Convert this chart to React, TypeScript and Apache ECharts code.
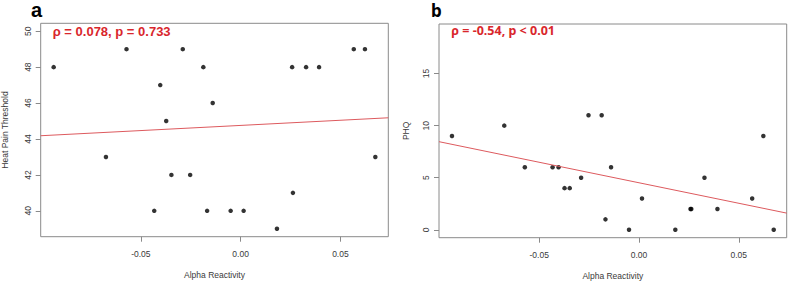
import React, { useEffect, useRef } from "react";
import * as echarts from "echarts";

// Alpha reactivity (x) shared by both panels
const alphaReactivity = [
  -0.0937, -0.0675, -0.0572, -0.0433, -0.0403, -0.0373, -0.0347, -0.029, -0.0253, -0.0187, -0.0168,
  -0.014, -0.005, 0.0015, 0.0182, 0.0258, 0.0262, 0.0328, 0.0393, 0.0567, 0.0623, 0.0675,
];
// Panel a: heat pain threshold
const heatPain = [48, 43, 49, 40, 47, 45, 42, 49, 42, 48, 40, 46, 40, 40, 39, 48, 41, 48, 48, 49, 49, 43];
// Panel b: PHQ
const phq = [9, 10, 6, 6, 6, 4, 4, 5, 11, 11, 1, 6, 0, 3, 0, 2, 2, 5, 2, 3, 9, 0];

// Fitted lines (endpoints at the axis limits)
const fitA: [number, number][] = [
  [-0.1002, 44.18],
  [0.074, 45.18],
];
const fitB: [number, number][] = [
  [-0.1002, 8.46],
  [0.074, 1.6],
];

const xTicks = [-0.05, 0, 0.05];
const yTicksA = [40, 42, 44, 46, 48, 50];
const yTicksB = [0, 5, 10, 15];
const xRange = [-0.1002, 0.074];
const yRangeA = [38.56, 50.44];
const yRangeB = [-0.76, 19.76];

const statA = "ρ = 0.078, p = 0.733";
const statB = "ρ = -0.54, p < 0.01";

const AXIS_FONT = "'Liberation Sans', Arial, Helvetica, sans-serif";
const GREY = "#8a8a8a";
const TEXT = "#3a3a3a";
const RED = "#d9262c";

function xAxisCfg(gridIndex: number) {
  return {
    type: "value",
    gridIndex,
    min: xRange[0],
    max: xRange[1],
    name: "Alpha Reactivity",
    nameLocation: "middle",
    nameGap: 34,
    nameTextStyle: { fontFamily: AXIS_FONT, fontSize: 8.5, color: TEXT },
    splitLine: { show: false },
    axisLine: { show: false, onZero: false },
    axisTick: { show: true, inside: false, length: 5, lineStyle: { color: GREY, width: 1 }, customValues: xTicks },
    axisLabel: {
      show: true,
      margin: 13,
      fontFamily: AXIS_FONT,
      fontSize: 8.5,
      color: TEXT,
      customValues: xTicks,
      formatter: (v: number) => v.toFixed(2),
    },
  };
}

function yAxisCfg(gridIndex: number, name: string, range: number[], ticks: number[], nameGap: number) {
  return {
    type: "value",
    gridIndex,
    min: range[0],
    max: range[1],
    name,
    nameLocation: "middle",
    nameGap,
    nameTextStyle: { fontFamily: AXIS_FONT, fontSize: 8.5, color: TEXT },
    splitLine: { show: false },
    axisLine: { show: false, onZero: false },
    axisTick: { show: true, inside: false, length: 5, lineStyle: { color: GREY, width: 1 }, customValues: ticks },
    axisLabel: {
      show: true,
      rotate: 90,
      margin: 8.5,
      fontFamily: AXIS_FONT,
      fontSize: 8.5,
      color: TEXT,
      customValues: ticks,
      formatter: (v: number) => String(v),
    },
  };
}

export default function App() {
  const ref = useRef<HTMLDivElement>(null);
  useEffect(() => {
    if (!ref.current) return;
    const chart = echarts.init(ref.current, undefined, { renderer: "svg" });
    const ptsA = alphaReactivity.map((x, i) => [x, heatPain[i]]);
    const ptsB = alphaReactivity.map((x, i) => [x, phq[i]]);
    chart.setOption({
      animation: false,
      backgroundColor: "#ffffff",
      grid: [
        { left: 40.7, top: 23.3, width: 347.6, height: 213.4, show: true, borderColor: GREY, borderWidth: 1, backgroundColor: "transparent", containLabel: false, outerBoundsMode: "none" },
        { left: 439, top: 24, width: 347.7, height: 213.7, show: true, borderColor: GREY, borderWidth: 1, backgroundColor: "transparent", containLabel: false, outerBoundsMode: "none" },
      ],
      xAxis: [xAxisCfg(0), xAxisCfg(1)],
      yAxis: [
        yAxisCfg(0, "Heat Pain Threshold", yRangeA, yTicksA, 31),
        yAxisCfg(1, "PHQ", yRangeB, yTicksB, 29),
      ],
      series: [
        {
          type: "line",
          xAxisIndex: 0,
          yAxisIndex: 0,
          data: fitA,
          symbol: "none",
          lineStyle: { color: "#dd5a5e", width: 1 },
          silent: true,
        },
        {
          type: "scatter",
          xAxisIndex: 0,
          yAxisIndex: 0,
          data: ptsA,
          symbolSize: 4.5,
          itemStyle: { color: "#000000" },
        },
        {
          type: "line",
          xAxisIndex: 1,
          yAxisIndex: 1,
          data: fitB,
          symbol: "none",
          lineStyle: { color: "#dd5a5e", width: 1 },
          silent: true,
        },
        {
          type: "scatter",
          xAxisIndex: 1,
          yAxisIndex: 1,
          data: ptsB,
          symbolSize: 4.5,
          itemStyle: { color: "#000000" },
        },
      ],
      graphic: [
        {
          type: "text",
          left: 31,
          top: 0,
          style: { text: "a", font: "bold 20px 'Liberation Sans', Arial, sans-serif", fill: "#000" },
        },
        {
          type: "text",
          left: 431,
          top: 2,
          style: { text: "b", font: "bold 17px 'Noto Sans', 'Open Sans', sans-serif", fill: "#000" },
        },
        {
          type: "text",
          left: 52.7,
          top: 24.5,
          style: { text: statA, font: "bold 13px 'Liberation Sans', Arial, sans-serif", fill: RED },
        },
        {
          type: "text",
          left: 451.3,
          top: 24,
          style: { text: statB, font: "bold 12.5px 'Noto Sans', 'Open Sans', sans-serif", fill: RED },
        },
      ],
    });
    return () => chart.dispose();
  }, []);
  return (
    <div
      ref={ref}
      style={{ position: "fixed", left: 0, top: 0, width: 788, height: 281, background: "#fff" }}
    />
  );
}
